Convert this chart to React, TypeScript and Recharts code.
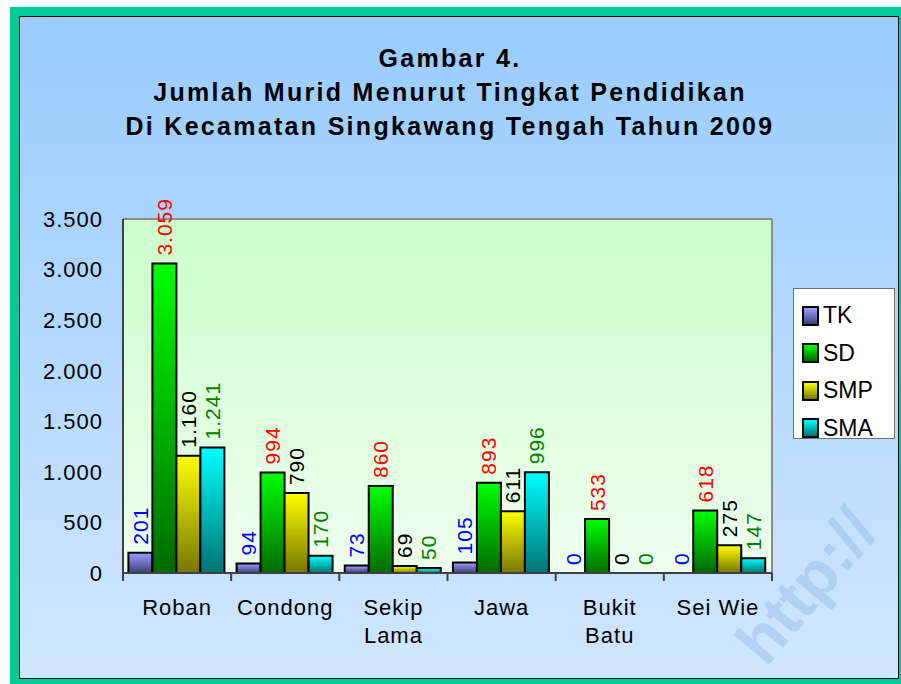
import React from "react";
import { BarChart, Bar, XAxis, YAxis, CartesianGrid, LabelList, Rectangle } from "recharts";

const categories = ["Roban", "Condong", "Sekip\nLama", "Jawa", "Bukit\nBatu", "Sei Wie"];
const tk = [201, 94, 73, 105, 0, 0];
const sd = [3059, 994, 860, 893, 533, 618];
const smp = [1160, 790, 69, 611, 0, 275];
const sma = [1241, 170, 50, 996, 0, 147];
const yTicks = [0, 500, 1000, 1500, 2000, 2500, 3000, 3500];
const titleLines = [
  "Gambar 4.",
  "Jumlah Murid Menurut Tingkat Pendidikan",
  "Di Kecamatan Singkawang Tengah Tahun 2009",
];

const FONT = '"Liberation Sans", Arial, sans-serif';

const series = [
  { key: "TK", values: tk, top: "#A0A0FF", bottom: "#3C3C78", label: "#0000FF" },
  { key: "SD", values: sd, top: "#00FF00", bottom: "#006A00", label: "#FF0000" },
  { key: "SMP", values: smp, top: "#FFFF00", bottom: "#767600", label: "#000000" },
  { key: "SMA", values: sma, top: "#00FFFF", bottom: "#007373", label: "#008000" },
];

const data = categories.map((name, i) => {
  const row: Record<string, string | number> = { name };
  series.forEach((s) => (row[s.key] = s.values[i]));
  return row;
});

// indonesian thousands separator
const fmt = (v: any) => String(v).replace(/\B(?=(\d{3})+(?!\d))/g, ".");

const makeLabel = (color: string) => (props: any) => {
  const { x, y, width, value } = props;
  const cx = Number(x) + Number(width) / 2;
  const cy = Number(y) - 8;
  return (
    <text
      x={cx}
      y={cy}
      dy="0.36em"
      transform={`rotate(-90 ${cx} ${cy})`}
      textAnchor="start"
      fill={color}
      fontSize={21}
      fontFamily={FONT}
      letterSpacing={1}
    >
      {fmt(value)}
    </text>
  );
};

// zero bars get a tiny min size so their labels still show, but no rect is drawn
const BarShape = (props: any) => (props.height < 0.5 ? <g /> : <Rectangle {...props} />);

const XTick = (props: any) => {
  const { x, y, payload, index } = props;
  const half = payload.offset ?? 649 / categories.length / 2;
  const lines = String(payload.value).split("\n");
  return (
    <g>
      <line x1={x - half} x2={x - half} y1={y} y2={y + 8} stroke="#404040" strokeWidth={2} />
      {index === categories.length - 1 && (
        <line x1={x + half} x2={x + half} y1={y} y2={y + 8} stroke="#404040" strokeWidth={2} />
      )}
      <text x={x} y={y + 42} textAnchor="middle" fontSize={22} fontFamily={FONT} letterSpacing={1} fill="#000">
        {lines.map((l, i) => (
          <tspan key={i} x={x} dy={i === 0 ? 0 : 28}>
            {l}
          </tspan>
        ))}
      </text>
    </g>
  );
};

const YTick = (props: any) => (
  <text x={props.x} y={props.y} dy="0.36em" textAnchor="end" fontSize={22} fontFamily={FONT} letterSpacing={1} fill="#000">
    {fmt(props.payload.value)}
  </text>
);

export default function App() {
  return (
    <div style={{ position: "absolute", left: 0, top: 0, width: 901, height: 684, overflow: "hidden" }}>
      <svg width={901} height={684} style={{ position: "absolute", left: 0, top: 0 }}>
        <defs>
          <linearGradient id="bgGrad" x1="0" y1="0" x2="0" y2="1">
            <stop offset="0%" stopColor="#99CCFF" />
            <stop offset="100%" stopColor="#D0E6FF" />
          </linearGradient>
          <linearGradient id="plotBg" x1="0" y1="0" x2="0" y2="1">
            <stop offset="0%" stopColor="#CCFFCC" />
            <stop offset="100%" stopColor="#EEFFEE" />
          </linearGradient>
          {series.map((s) => (
            <linearGradient key={s.key} id={`g${s.key}`} x1="0" y1="0" x2="0" y2="1">
              <stop offset="0%" stopColor={s.top} />
              <stop offset="100%" stopColor={s.bottom} />
            </linearGradient>
          ))}
        </defs>
        <rect x={10} y={7} width={898} height={681} fill="#00CC99" />
        <rect x={19} y={16} width={880} height={663} fill="#000" />
        <rect x={20} y={17} width={878} height={661} fill="url(#bgGrad)" />
        <text
          x={766}
          y={668}
          transform="rotate(-50 766 668)"
          fontSize={64}
          fontWeight="bold"
          fontFamily={FONT}
          fill="#5A8CC8"
          fillOpacity={0.22}
        >
          http://
        </text>
        {titleLines.map((t, i) => (
          <text
            key={i}
            x={450}
            y={67 + i * 34}
            textAnchor="middle"
            fontSize={25}
            fontWeight="bold"
            fontFamily={FONT}
            letterSpacing={2.3}
            fill="#000"
          >
            {t}
          </text>
        ))}
      </svg>
      <div style={{ position: "absolute", left: 0, top: 0 }}>
        <BarChart
          width={901}
          height={684}
          data={data}
          margin={{ top: 218, right: 128, bottom: 51, left: 23 }}
          barCategoryGap="5%"
          barGap={0}
        >
          <CartesianGrid horizontal={false} vertical={false} fill="url(#plotBg)" stroke="none" />
          <XAxis
            xAxisId="top"
            orientation="top"
            dataKey="name"
            height={1}
            tick={false}
            tickLine={false}
            axisLine={{ stroke: "#8C8C8C", strokeWidth: 2 }}
          />
          <YAxis
            yAxisId="right"
            orientation="right"
            width={1}
            domain={[0, 3500]}
            tick={false}
            tickLine={false}
            axisLine={{ stroke: "#8C8C8C", strokeWidth: 2 }}
          />
          <XAxis
            dataKey="name"
            height={60}
            interval={0}
            tickLine={false}
            tickSize={0}
            tickMargin={0}
            tick={<XTick />}
            axisLine={{ stroke: "#404040", strokeWidth: 2 }}
          />
          <YAxis
            domain={[0, 3500]}
            ticks={yTicks}
            interval={0}
            width={100}
            tickLine={false}
            tickSize={0}
            tickMargin={20}
            tick={<YTick />}
            axisLine={{ stroke: "#404040", strokeWidth: 2 }}
          />
          {series.map((s) => (
            <Bar
              key={s.key}
              dataKey={s.key}
              fill={`url(#g${s.key})`}
              stroke="#000"
              strokeWidth={2}
              minPointSize={0.01}
              shape={<BarShape />}
              isAnimationActive={false}
            >
              <LabelList dataKey={s.key} content={makeLabel(s.label)} />
            </Bar>
          ))}
        </BarChart>
      </div>
      <div
        style={{
          position: "absolute",
          left: 793,
          top: 288,
          width: 102,
          height: 151,
          boxSizing: "border-box",
          background: "#fff",
          border: "1px solid #707070",
          paddingTop: 8,
          paddingLeft: 8,
          fontFamily: FONT,
          fontSize: 23,
        }}
      >
        {series.map((s) => (
          <div key={s.key} style={{ display: "flex", alignItems: "center", height: 37.5 }}>
            <div
              style={{
                width: 17,
                height: 20,
                boxSizing: "border-box",
                border: "2px solid #000",
                background: `linear-gradient(${s.top}, ${s.bottom})`,
                marginRight: 4,
              }}
            />
            <span>{s.key}</span>
          </div>
        ))}
      </div>
    </div>
  );
}
